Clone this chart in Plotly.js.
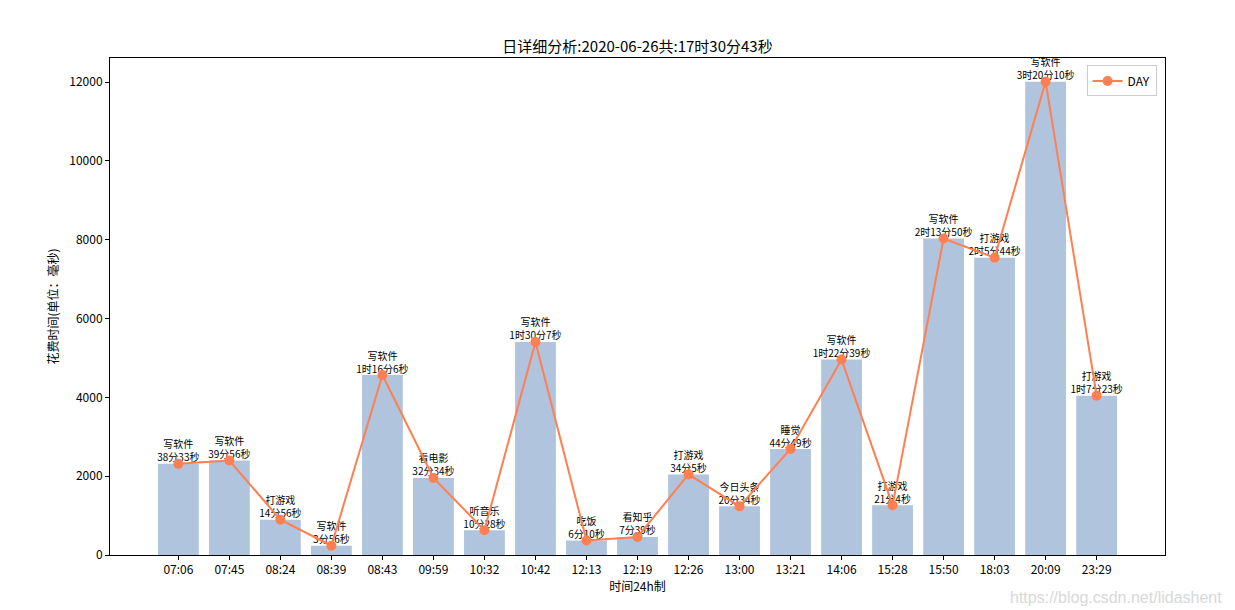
<!DOCTYPE html>
<html>
<head>
<meta charset="utf-8">
<script src="https://cdn.plot.ly/plotly-3.0.1.min.js"></script>
<style>html,body{margin:0;padding:0;background:#fff;}#chart{width:1235px;height:610px;}</style>
</head>
<body>
<div id="chart"></div>
<script>
const times = ["07:06","07:45","08:24","08:39","08:43","09:59","10:32","10:42","12:13","12:19","12:26","13:00","13:21","14:06","15:28","15:50","18:03","20:09","23:29"];
const seconds = [2313,2396,896,236,4566,1954,628,5407,370,459,2045,1234,2689,4959,1264,8030,7544,12010,4043];
const activities = ["写软件","写软件","打游戏","写软件","写软件","看电影","听音乐","写软件","吃饭","看知乎","打游戏","今日头条","睡觉","写软件","打游戏","写软件","打游戏","写软件","打游戏"];
const durations = ["38分33秒","39分56秒","14分56秒","3分56秒","1时16分6秒","32分34秒","10分28秒","1时30分7秒","6分10秒","7分39秒","34分5秒","20分34秒","44分49秒","1时22分39秒","21分4秒","2时13分50秒","2时5分44秒","3时20分10秒","1时7分23秒"];

const FONT = '"Noto Sans CJK SC", "DejaVu Sans", sans-serif';

const bars = {
  type: 'bar', x: times, y: seconds, width: 0.8,
  marker: {color: '#B0C4DE'}, showlegend: false, hoverinfo: 'skip'
};
const labels = {
  type: 'scatter', mode: 'text', x: times, y: seconds,
  text: times.map((t, i) => activities[i] + '<br>' + durations[i]),
  textposition: 'top center', textfont: {family: FONT, size: 10, color: '#000'},
  showlegend: false, hoverinfo: 'skip', cliponaxis: false
};
const line = {
  type: 'scatter', mode: 'lines+markers', x: times, y: seconds, name: 'DAY',
  line: {color: '#FF7F50', width: 2}, marker: {color: '#FF7F50', size: 10}, cliponaxis: false
};

const annotations = [{
  xref: 'paper', yref: 'paper', x: 1.056, y: -0.065, xanchor: 'right', yanchor: 'top',
  text: 'https://blog.csdn.net/lidashent', showarrow: false,
  font: {family: '"Liberation Sans", Arial, sans-serif', size: 16, color: '#d8d8d8'}
}];

const layout = {
  width: 1235, height: 610,
  margin: {l: 110, r: 70, t: 58, b: 55},
  paper_bgcolor: '#fff', plot_bgcolor: '#fff',
  font: {family: FONT, size: 12, color: '#000'},
  title: {text: '日详细分析:2020-06-26共:17时30分43秒', font: {family: FONT, size: 15, color: '#000'},
          x: 0.5, xref: 'paper', y: 1, yref: 'paper', yanchor: 'bottom', pad: {b: 6}},
  bargap: 0.2,
  xaxis: {
    type: 'category', range: [-1.34, 19.34], showgrid: false, zeroline: false,
    showline: true, linecolor: '#000', linewidth: 1, mirror: true,
    ticks: 'outside', ticklen: 4, tickcolor: '#000',
    tickfont: {family: FONT, size: 12},
    title: {text: '时间24h制', font: {family: FONT, size: 12}, standoff: 4}
  },
  yaxis: {
    range: [0, 12610], showgrid: false, zeroline: false,
    showline: true, linecolor: '#000', linewidth: 1, mirror: true,
    ticks: 'outside', ticklen: 4, tickcolor: '#000',
    tickvals: [0, 2000, 4000, 6000, 8000, 10000, 12000],
    ticktext: ['0','2000','4000','6000','8000','10000','12000'],
    tickfont: {family: FONT, size: 12},
    title: {text: '花费时间(单位：毫秒)', font: {family: FONT, size: 12}, standoff: 8}
  },
  legend: {
    x: 0.992, y: 0.985, xanchor: 'right', yanchor: 'top',
    bgcolor: 'rgba(255,255,255,0.8)', bordercolor: '#cccccc', borderwidth: 1,
    font: {family: FONT, size: 12}
  },
  annotations: annotations
};

Plotly.newPlot('chart', [bars, labels, line], layout, {displayModeBar: false, staticPlot: true});
</script>
</body>
</html>
